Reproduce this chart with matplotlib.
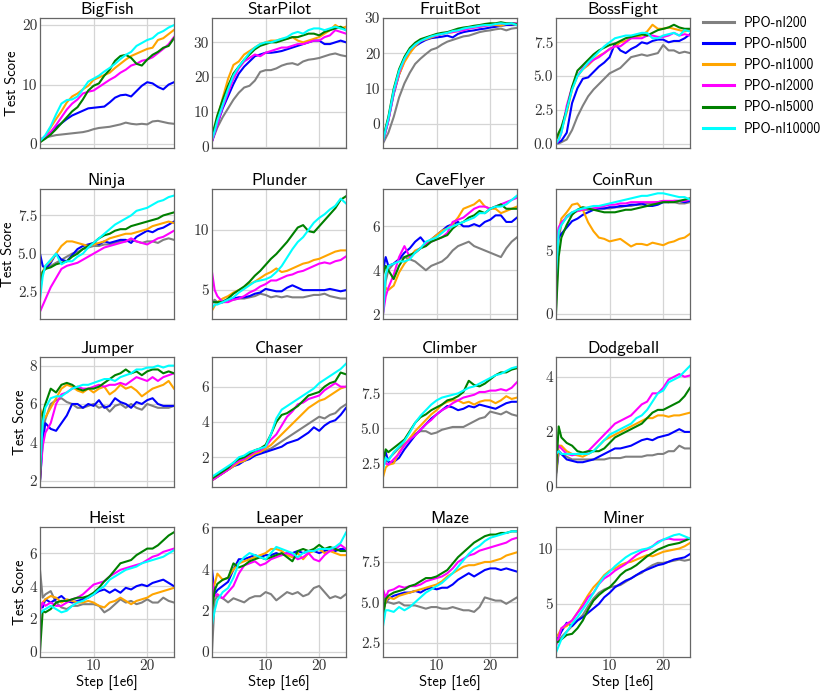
import matplotlib
matplotlib.use("Agg")
import matplotlib.pyplot as plt

plt.rcParams['font.family'] = ['cmss10', 'DejaVu Sans']
plt.rcParams['axes.unicode_minus'] = False

# training steps in 1e6
STEPS = [0, 0.5, 1, 2, 3, 4, 5, 6, 7, 8, 9, 10, 11, 12, 13, 14, 15, 16, 17, 18,
         19, 20, 21, 22, 23, 24, 25]

RUNS = ['PPO-nl200', 'PPO-nl500', 'PPO-nl1000', 'PPO-nl2000', 'PPO-nl5000', 'PPO-nl10000']
COLORS = ['grey', 'blue', 'orange', 'magenta', 'green', 'cyan']

GAMES = ['BigFish', 'StarPilot', 'FruitBot', 'BossFight',
         'Ninja', 'Plunder', 'CaveFlyer', 'CoinRun',
         'Jumper', 'Chaser', 'Climber', 'Dodgeball',
         'Heist', 'Leaper', 'Maze', 'Miner']

# one list per run, in RUNS order
bigfish = [
    [0.3, 0.8, 1.1, 1.3, 1.5, 1.6, 1.7, 1.8, 1.9, 2.0, 2.2, 2.5, 2.7, 2.8, 2.9, 3.1, 3.3, 3.6, 3.4, 3.3, 3.4, 3.3, 3.8, 3.9, 3.7, 3.5, 3.4],
    [0.4, 0.8, 1.2, 2.0, 2.8, 3.5, 4.2, 4.8, 5.2, 5.6, 6.0, 6.1, 6.2, 6.3, 7.0, 7.8, 8.2, 8.3, 8.0, 8.9, 9.8, 10.4, 10.2, 9.6, 9.2, 10.0, 10.4],
    [0.3, 0.8, 1.3, 2.8, 4.2, 5.5, 7.0, 8.0, 8.5, 9.2, 9.8, 10.8, 11.2, 11.6, 12.0, 12.8, 13.5, 14.2, 14.8, 15.2, 15.6, 16.0, 16.2, 17.5, 17.8, 18.5, 19.2],
    [0.8, 1.0, 1.2, 2.0, 3.2, 4.5, 5.8, 6.8, 7.5, 8.5, 8.8, 9.0, 9.6, 10.2, 10.8, 11.3, 12.0, 12.5, 13.2, 13.5, 14.0, 14.2, 14.6, 15.3, 16.0, 16.8, 18.0],
    [0.3, 0.6, 0.9, 1.6, 2.5, 3.5, 4.5, 5.5, 6.2, 7.5, 9.0, 9.8, 10.2, 11.5, 12.5, 14.0, 14.8, 15.0, 14.5, 13.5, 13.2, 14.2, 15.0, 15.5, 16.2, 16.5, 17.8],
    [0.5, 1.0, 1.5, 3.0, 5.0, 6.8, 7.4, 7.5, 8.0, 9.2, 10.5, 11.0, 11.5, 12.2, 12.8, 13.5, 14.3, 15.0, 15.5, 16.5, 17.0, 17.5, 17.8, 18.6, 19.0, 19.6, 20.0],
]
starpilot = [
    [1.5, 3.5, 5.5, 8.5, 11.0, 13.5, 15.5, 17.0, 17.5, 19.0, 21.5, 22.0, 22.0, 22.5, 23.3, 23.8, 24.0, 23.5, 24.5, 25.0, 25.2, 25.5, 26.0, 26.5, 26.8, 26.3, 26.0],
    [1.5, 4.0, 6.5, 11.0, 14.5, 18.0, 21.0, 23.0, 24.5, 26.0, 26.5, 27.0, 27.0, 27.2, 27.5, 28.0, 28.5, 29.0, 29.5, 30.0, 30.5, 30.5, 29.5, 29.5, 30.0, 30.5, 30.0],
    [2.0, 5.0, 8.0, 14.0, 19.5, 23.5, 24.5, 26.5, 27.5, 28.5, 29.5, 30.0, 30.5, 30.5, 31.0, 31.0, 31.5, 30.5, 30.0, 30.5, 31.0, 31.5, 32.5, 33.5, 35.0, 34.0, 34.5],
    [1.5, 4.0, 6.5, 11.5, 15.5, 19.5, 22.5, 24.5, 25.5, 26.5, 26.0, 27.0, 27.5, 28.0, 28.5, 28.5, 29.0, 29.5, 29.5, 30.0, 30.5, 30.5, 31.5, 32.0, 33.5, 33.0, 32.5],
    [3.5, 6.0, 9.0, 13.5, 17.5, 21.0, 23.0, 25.0, 26.5, 28.0, 29.0, 29.5, 30.0, 30.0, 30.5, 31.0, 31.5, 31.5, 32.0, 32.5, 32.5, 32.0, 33.0, 33.5, 34.0, 34.5, 33.5],
    [2.0, 4.5, 7.5, 12.0, 16.5, 20.5, 23.0, 25.0, 27.0, 28.5, 29.5, 30.0, 30.0, 30.5, 31.0, 31.5, 32.5, 33.0, 32.5, 33.5, 34.0, 34.0, 33.5, 34.0, 34.5, 34.0, 33.5],
]
fruitbot = [
    [-5.5, -4.0, -2.5, 2.0, 7.5, 11.5, 14.5, 17.0, 18.5, 19.8, 21.0, 21.5, 22.5, 23.3, 23.8, 24.3, 24.8, 25.0, 25.5, 26.0, 26.3, 26.5, 26.8, 27.0, 26.5, 27.0, 27.2],
    [-5.0, -2.0, 1.0, 8.5, 14.0, 18.0, 20.5, 22.0, 23.0, 23.8, 24.3, 24.5, 24.7, 25.0, 24.5, 25.5, 26.0, 26.3, 26.5, 26.8, 27.0, 27.3, 27.5, 27.8, 28.0, 28.0, 28.0],
    [-5.0, -1.5, 1.5, 9.0, 14.0, 17.5, 20.0, 22.0, 23.5, 24.0, 24.5, 25.0, 25.5, 25.8, 26.0, 26.3, 26.8, 27.0, 27.3, 27.5, 27.8, 28.0, 28.0, 27.8, 28.3, 28.3, 28.0],
    [-5.0, -2.0, 1.0, 9.0, 14.5, 18.5, 21.0, 22.5, 23.5, 24.3, 24.8, 25.0, 25.5, 25.8, 26.0, 26.3, 26.5, 27.0, 27.3, 27.5, 27.8, 28.0, 28.3, 28.5, 28.3, 28.5, 28.5],
    [-4.5, -1.0, 2.0, 10.0, 15.5, 19.0, 21.5, 23.0, 24.0, 24.5, 25.0, 25.5, 25.8, 26.0, 26.5, 27.0, 27.3, 27.5, 27.8, 28.0, 28.3, 28.5, 28.5, 28.8, 28.5, 28.5, 28.3],
    [-5.0, -1.5, 1.5, 9.5, 15.0, 18.5, 21.0, 22.5, 23.5, 24.2, 24.8, 25.2, 25.5, 25.8, 26.3, 26.5, 27.0, 27.3, 27.5, 27.8, 28.0, 28.0, 28.3, 28.5, 28.3, 28.5, 28.0],
]
bossfight = [
    [0.0, 0.0, 0.1, 0.3, 1.0, 2.0, 2.8, 3.5, 4.0, 4.4, 4.8, 5.2, 5.4, 5.6, 6.0, 6.4, 6.5, 6.6, 6.5, 6.6, 6.7, 7.3, 6.9, 6.9, 6.7, 6.8, 6.7],
    [0.0, 0.1, 0.2, 0.8, 3.0, 4.1, 4.8, 4.9, 5.3, 5.7, 6.0, 6.4, 7.4, 6.9, 6.7, 7.0, 7.2, 7.5, 7.4, 7.6, 7.7, 7.7, 7.5, 7.6, 7.6, 7.8, 8.1],
    [0.3, 0.6, 1.0, 2.3, 4.0, 5.0, 5.5, 5.8, 6.2, 6.5, 6.7, 7.0, 7.2, 7.5, 7.6, 7.8, 7.9, 8.0, 8.3, 8.8, 8.5, 8.5, 8.6, 8.5, 8.4, 8.3, 8.4],
    [0.0, 0.2, 0.8, 2.8, 4.2, 5.0, 5.6, 5.9, 6.2, 6.4, 6.7, 7.0, 7.2, 7.2, 7.5, 7.8, 7.8, 7.8, 8.0, 8.0, 7.9, 7.9, 8.0, 8.2, 8.0, 8.1, 8.0],
    [0.3, 0.8, 1.2, 2.5, 4.2, 5.4, 5.8, 6.2, 6.6, 6.9, 7.1, 7.3, 7.4, 7.6, 7.8, 7.9, 8.0, 8.1, 8.0, 8.2, 8.4, 8.5, 8.6, 8.8, 8.6, 8.5, 8.5],
    [0.0, 0.3, 0.8, 2.5, 4.0, 5.0, 5.5, 6.0, 6.4, 6.8, 7.2, 7.5, 7.8, 7.9, 8.0, 8.0, 8.1, 8.2, 8.2, 7.8, 7.8, 8.0, 8.1, 8.2, 8.0, 8.4, 8.3],
]
ninja = [
    [3.5, 3.8, 4.0, 4.2, 4.4, 4.6, 4.8, 5.0, 5.1, 5.3, 5.4, 5.5, 5.5, 5.6, 5.6, 5.7, 5.8, 5.8, 5.9, 5.8, 5.7, 5.8, 5.8, 5.7, 5.9, 6.0, 5.9],
    [5.0, 4.2, 4.0, 4.4, 5.0, 4.6, 4.5, 4.9, 5.3, 5.5, 5.6, 5.7, 5.6, 5.8, 5.7, 5.8, 5.9, 5.9, 5.7, 6.1, 6.3, 6.5, 6.4, 6.6, 6.7, 6.9, 7.1],
    [3.0, 3.8, 4.2, 4.5, 5.0, 5.5, 5.8, 5.8, 5.7, 5.6, 5.5, 5.6, 5.7, 5.8, 6.0, 6.1, 6.2, 6.3, 6.3, 6.4, 6.5, 6.6, 6.8, 6.9, 7.0, 7.1, 7.0],
    [1.2, 1.6, 2.0, 2.8, 3.4, 4.0, 4.2, 4.3, 4.4, 4.6, 4.8, 5.0, 5.2, 5.4, 5.5, 5.6, 5.7, 5.8, 6.0, 5.8, 5.7, 5.6, 5.8, 6.0, 6.1, 6.3, 6.5],
    [2.5, 3.8, 4.0, 4.1, 4.3, 4.4, 4.5, 4.8, 5.0, 5.3, 5.5, 5.7, 6.0, 6.2, 6.3, 6.5, 6.6, 6.6, 6.8, 6.9, 7.0, 7.1, 7.2, 7.3, 7.5, 7.6, 7.7],
    [2.0, 3.5, 4.2, 4.6, 5.0, 4.3, 4.5, 4.5, 4.8, 5.0, 5.4, 5.7, 6.0, 6.3, 6.6, 6.9, 7.1, 7.3, 7.5, 7.8, 7.9, 8.0, 8.2, 8.4, 8.5, 8.7, 8.8],
]
plunder = [
    [4.0, 4.2, 4.0, 4.1, 4.2, 4.2, 4.3, 4.3, 4.4, 4.5, 4.7, 4.6, 4.4, 4.5, 4.4, 4.5, 4.4, 4.4, 4.4, 4.5, 4.6, 4.6, 4.7, 4.5, 4.4, 4.3, 4.3],
    [4.0, 4.0, 3.9, 4.0, 4.2, 4.3, 4.4, 4.4, 4.5, 4.7, 4.8, 5.1, 5.0, 4.9, 4.9, 5.2, 5.4, 5.2, 5.0, 5.0, 5.0, 5.0, 5.0, 5.1, 5.0, 4.9, 5.0],
    [3.3, 3.7, 4.0, 4.3, 4.5, 4.8, 5.0, 5.2, 5.5, 5.7, 6.0, 6.3, 6.5, 6.8, 6.5, 6.6, 6.8, 7.0, 7.2, 7.3, 7.5, 7.6, 7.8, 8.0, 8.2, 8.3, 8.3],
    [6.5, 5.0, 4.5, 4.0, 4.0, 4.2, 4.3, 4.5, 4.8, 5.0, 5.3, 5.5, 5.8, 5.8, 6.0, 6.2, 6.3, 6.5, 6.6, 6.8, 7.0, 7.2, 7.3, 7.2, 7.4, 7.5, 7.8],
    [4.0, 4.0, 4.0, 4.0, 4.3, 4.7, 5.0, 5.3, 5.7, 6.2, 6.6, 7.1, 7.6, 8.0, 8.5, 9.0, 9.6, 10.2, 10.4, 9.9, 9.8, 10.3, 10.8, 11.3, 11.8, 12.5, 12.8],
    [3.5, 3.8, 3.8, 4.0, 4.2, 4.4, 4.8, 5.1, 5.4, 5.7, 5.8, 5.9, 6.1, 6.5, 7.0, 7.7, 8.4, 9.0, 9.4, 10.0, 10.6, 11.0, 11.3, 11.7, 12.0, 12.6, 12.2],
]
caveflyer = [
    [2.0, 3.5, 4.0, 4.3, 4.5, 4.6, 4.5, 4.4, 4.2, 4.0, 4.2, 4.3, 4.4, 4.6, 4.9, 5.1, 5.2, 5.3, 5.1, 5.0, 4.9, 4.8, 4.7, 4.6, 5.0, 5.3, 5.5],
    [4.0, 4.6, 4.2, 4.3, 4.5, 4.8, 5.0, 5.3, 5.5, 5.2, 5.4, 5.6, 5.8, 6.0, 6.1, 6.2, 6.0, 6.0, 6.1, 6.0, 6.2, 6.3, 6.5, 6.5, 6.2, 6.2, 6.4],
    [2.5, 3.2, 3.1, 3.3, 3.9, 4.3, 4.6, 4.9, 5.0, 5.2, 5.4, 5.6, 5.8, 5.9, 6.1, 6.4, 6.8, 6.9, 7.0, 7.2, 6.9, 6.8, 6.8, 6.6, 6.7, 6.8, 6.9],
    [2.0, 2.8, 3.2, 3.8, 4.6, 5.1, 4.6, 4.8, 5.0, 5.2, 5.3, 5.4, 5.5, 5.7, 6.2, 6.3, 6.4, 6.6, 6.8, 6.9, 6.9, 6.8, 6.9, 7.0, 7.1, 7.2, 7.3],
    [3.8, 4.2, 4.0, 3.6, 4.2, 4.6, 4.7, 4.8, 5.0, 5.1, 5.3, 5.4, 5.5, 5.6, 5.9, 6.1, 6.2, 6.4, 6.5, 6.7, 6.6, 6.8, 6.9, 7.0, 6.8, 6.8, 6.8],
    [2.0, 3.8, 4.2, 4.3, 4.4, 4.4, 4.5, 4.8, 5.0, 5.3, 5.4, 5.5, 5.7, 5.9, 6.0, 6.1, 6.2, 6.3, 6.4, 6.6, 6.6, 6.8, 6.9, 6.9, 7.0, 7.2, 7.4],
]
coinrun = [
    [0.5, 6.0, 7.0, 7.7, 8.0, 8.1, 8.2, 8.2, 8.3, 8.3, 8.3, 8.3, 8.4, 8.4, 8.5, 8.5, 8.6, 8.6, 8.7, 8.7, 8.8, 8.9, 8.8, 8.8, 8.7, 8.7, 8.8],
    [5.0, 6.0, 6.3, 6.8, 7.3, 7.5, 7.8, 8.0, 8.2, 8.3, 8.3, 8.4, 8.4, 8.5, 8.5, 8.6, 8.6, 8.7, 8.5, 8.5, 8.6, 8.8, 8.8, 8.9, 8.9, 8.8, 8.9],
    [4.0, 6.5, 7.5, 8.0, 8.6, 8.7, 8.2, 7.2, 6.5, 6.0, 5.9, 5.7, 5.8, 5.9, 5.6, 5.3, 5.5, 5.5, 5.4, 5.6, 5.5, 5.4, 5.6, 5.7, 5.9, 6.0, 6.3],
    [5.5, 6.8, 7.2, 7.6, 7.9, 8.1, 8.2, 8.3, 8.3, 8.4, 8.5, 8.6, 8.6, 8.7, 8.7, 8.8, 8.8, 8.8, 8.8, 8.8, 8.8, 8.9, 8.9, 8.9, 8.9, 8.9, 9.0],
    [0.0, 4.5, 6.0, 7.0, 7.8, 8.2, 8.4, 8.3, 8.2, 8.1, 8.0, 8.0, 8.0, 8.1, 8.2, 8.2, 8.3, 8.4, 8.5, 8.6, 8.7, 8.8, 8.8, 8.8, 8.9, 9.0, 9.1],
    [3.0, 6.5, 7.0, 7.6, 8.0, 8.2, 8.3, 8.4, 8.5, 8.5, 8.6, 8.7, 8.8, 8.9, 9.0, 9.1, 9.2, 9.3, 9.3, 9.4, 9.5, 9.5, 9.4, 9.3, 9.2, 9.2, 9.0],
]
jumper = [
    [2.0, 4.5, 5.2, 6.0, 6.2, 6.3, 6.1, 6.0, 5.8, 5.8, 5.9, 6.0, 5.8, 5.9, 5.6, 5.9, 6.0, 5.8, 6.0, 5.8, 5.7, 6.0, 5.9, 5.8, 5.8, 5.8, 5.9],
    [2.0, 4.0, 5.0, 4.7, 4.6, 5.0, 5.4, 6.0, 6.0, 5.8, 6.0, 5.9, 6.2, 5.8, 5.9, 6.3, 6.1, 6.0, 5.8, 6.1, 6.0, 6.2, 6.3, 6.0, 5.9, 5.9, 5.9],
    [5.8, 5.3, 5.3, 5.8, 6.3, 6.8, 7.0, 6.9, 6.7, 6.6, 6.8, 6.6, 6.8, 6.9, 6.5, 6.7, 7.0, 6.8, 6.9, 6.7, 6.4, 6.6, 6.8, 6.9, 7.0, 7.2, 6.8],
    [2.0, 3.8, 4.5, 5.0, 6.0, 6.5, 6.6, 6.8, 6.9, 6.8, 6.8, 6.9, 7.0, 6.9, 7.0, 7.0, 7.1, 7.0, 7.2, 7.4, 7.3, 7.2, 7.4, 7.2, 7.4, 7.5, 7.6],
    [2.0, 5.5, 6.0, 6.8, 6.6, 7.0, 7.1, 7.0, 6.8, 6.7, 6.8, 6.8, 6.9, 7.1, 7.3, 7.5, 7.6, 7.8, 7.6, 7.7, 7.5, 7.7, 7.8, 7.8, 7.6, 7.7, 7.6],
    [2.5, 5.0, 5.8, 6.3, 6.4, 6.4, 6.6, 6.8, 6.9, 7.0, 7.0, 7.1, 7.2, 7.3, 7.3, 7.2, 7.4, 7.5, 7.6, 7.8, 7.8, 7.9, 7.9, 8.0, 7.9, 8.0, 8.0],
]
chaser = [
    [0.7, 0.8, 0.9, 1.1, 1.3, 1.5, 1.7, 1.8, 2.0, 2.1, 2.3, 2.4, 2.5, 2.7, 2.9, 3.1, 3.3, 3.5, 3.7, 3.9, 4.1, 4.3, 4.2, 4.4, 4.5, 4.8, 5.0],
    [0.7, 0.8, 0.9, 1.1, 1.3, 1.5, 1.6, 1.8, 1.9, 2.1, 2.2, 2.3, 2.4, 2.5, 2.6, 2.8, 2.9, 3.0, 3.2, 3.4, 3.7, 3.5, 3.8, 4.0, 4.1, 4.4, 4.8],
    [0.7, 0.8, 0.9, 1.1, 1.3, 1.5, 1.7, 1.8, 2.0, 2.2, 2.3, 2.5, 2.7, 3.0, 3.3, 3.6, 3.9, 4.2, 4.5, 4.8, 5.0, 5.2, 5.3, 5.5, 5.7, 5.9, 6.0],
    [0.7, 0.8, 0.9, 1.1, 1.3, 1.6, 1.8, 1.9, 2.1, 2.3, 2.4, 2.6, 3.0, 3.3, 3.8, 4.3, 4.6, 5.0, 5.1, 5.3, 5.4, 5.5, 5.8, 6.0, 6.2, 6.0, 6.0],
    [0.8, 0.9, 1.0, 1.2, 1.4, 1.7, 1.9, 2.0, 2.2, 2.4, 2.5, 2.7, 3.3, 4.0, 4.4, 4.5, 4.7, 4.9, 5.2, 5.5, 5.6, 5.7, 6.0, 6.2, 6.3, 6.8, 6.7],
    [0.9, 1.0, 1.1, 1.3, 1.5, 1.7, 2.0, 2.1, 2.3, 2.4, 2.5, 2.6, 3.3, 4.2, 4.7, 4.9, 5.1, 5.3, 5.5, 5.7, 5.9, 6.2, 6.4, 6.6, 6.8, 7.0, 7.3],
]
climber = [
    [2.3, 2.6, 2.8, 3.2, 3.6, 3.9, 4.2, 4.6, 4.8, 4.8, 4.6, 4.7, 4.9, 5.0, 5.1, 5.1, 5.1, 5.3, 5.5, 5.7, 5.8, 6.2, 6.1, 6.0, 6.2, 6.0, 5.9],
    [2.8, 3.3, 2.6, 2.6, 2.9, 3.5, 4.0, 4.5, 4.9, 5.3, 5.7, 6.0, 6.3, 6.6, 6.5, 6.3, 6.4, 6.6, 6.5, 6.7, 6.6, 6.5, 6.4, 6.6, 6.8, 6.9, 6.9],
    [1.5, 2.2, 2.4, 2.5, 3.3, 3.8, 4.3, 4.8, 5.2, 5.6, 6.0, 6.3, 6.7, 6.9, 7.0, 7.0, 6.8, 6.9, 6.7, 6.9, 7.0, 7.0, 6.8, 7.0, 7.3, 7.1, 7.2],
    [2.8, 2.5, 2.4, 2.8, 3.2, 3.8, 4.2, 4.5, 4.9, 5.3, 5.6, 6.0, 6.3, 6.5, 6.8, 7.0, 7.2, 7.3, 7.4, 7.6, 7.6, 7.7, 7.7, 7.8, 7.7, 7.9, 8.3],
    [2.5, 3.5, 3.3, 3.6, 3.9, 4.2, 4.8, 5.4, 5.8, 6.0, 6.3, 6.5, 6.7, 7.0, 7.1, 7.3, 7.6, 8.4, 8.1, 8.0, 8.2, 8.5, 8.8, 9.0, 9.0, 9.2, 9.3],
    [2.0, 2.9, 2.7, 3.3, 3.7, 4.1, 4.7, 5.4, 5.9, 6.3, 6.7, 7.0, 7.2, 7.3, 7.4, 7.5, 7.7, 7.9, 8.0, 8.2, 8.4, 8.6, 8.8, 8.9, 9.1, 9.3, 9.4],
]
dodgeball = [
    [0.3, 1.3, 1.2, 1.1, 1.0, 1.0, 1.0, 1.0, 1.0, 1.0, 1.0, 1.05, 1.05, 1.05, 1.1, 1.1, 1.1, 1.1, 1.15, 1.15, 1.2, 1.2, 1.3, 1.3, 1.5, 1.4, 1.4],
    [0.5, 1.3, 1.2, 1.0, 0.95, 0.9, 0.9, 0.95, 1.0, 1.1, 1.2, 1.3, 1.4, 1.4, 1.45, 1.5, 1.6, 1.7, 1.75, 1.7, 1.8, 1.85, 1.9, 2.0, 2.1, 2.0, 2.0],
    [0.5, 1.5, 1.5, 1.3, 1.2, 1.15, 1.1, 1.2, 1.3, 1.5, 1.7, 1.8, 1.9, 2.0, 2.1, 2.2, 2.3, 2.4, 2.5, 2.5, 2.6, 2.6, 2.55, 2.6, 2.6, 2.65, 2.7],
    [1.2, 1.5, 1.4, 1.2, 1.15, 1.2, 1.2, 1.3, 1.5, 1.7, 1.9, 2.1, 2.3, 2.4, 2.5, 2.6, 2.8, 3.0, 3.1, 3.4, 3.4, 3.6, 3.9, 4.0, 4.1, 4.0, 4.05],
    [0.5, 2.2, 1.8, 1.6, 1.5, 1.3, 1.25, 1.3, 1.3, 1.3, 1.4, 1.6, 1.8, 1.9, 2.0, 2.1, 2.2, 2.3, 2.5, 2.7, 2.8, 2.8, 2.9, 3.0, 3.1, 3.3, 3.6],
    [1.2, 1.3, 1.2, 1.2, 1.2, 1.2, 1.2, 1.2, 1.3, 1.5, 1.7, 1.9, 2.0, 2.1, 2.2, 2.3, 2.5, 2.6, 2.8, 3.1, 3.4, 3.5, 3.8, 3.9, 4.0, 4.2, 4.4],
]
heist = [
    [5.0, 3.3, 3.5, 3.7, 3.0, 2.7, 2.6, 2.8, 2.8, 2.9, 2.9, 2.9, 2.8, 2.4, 2.6, 2.9, 3.2, 3.0, 3.1, 2.9, 3.0, 3.2, 3.0, 3.0, 3.3, 3.1, 3.0],
    [3.0, 2.7, 3.2, 3.0, 3.2, 3.4, 3.1, 3.0, 3.1, 3.2, 3.3, 3.5, 3.7, 3.8, 3.6, 3.8, 3.6, 3.9, 3.8, 4.0, 4.1, 4.0, 4.2, 4.3, 4.4, 4.2, 4.0],
    [2.7, 3.0, 3.2, 3.4, 3.3, 3.0, 3.2, 3.1, 3.0, 3.0, 3.1, 3.0, 2.8, 2.7, 3.0, 3.1, 3.3, 3.1, 2.9, 3.1, 3.2, 3.3, 3.5, 3.6, 3.7, 3.8, 3.9],
    [2.5, 3.0, 2.8, 3.0, 2.8, 2.8, 3.0, 3.2, 3.3, 3.5, 3.8, 4.1, 4.2, 4.3, 4.6, 4.8, 5.0, 5.1, 5.2, 5.3, 5.4, 5.6, 5.8, 5.9, 6.1, 6.2, 6.3],
    [0.0, 2.5, 2.4, 2.6, 3.0, 3.1, 3.1, 3.2, 3.3, 3.3, 3.4, 3.6, 3.9, 4.3, 4.6, 5.0, 5.4, 5.5, 5.6, 5.9, 6.1, 6.3, 6.3, 6.5, 6.8, 7.1, 7.3],
    [2.3, 2.5, 2.6, 2.8, 2.6, 2.4, 2.5, 2.8, 3.0, 3.1, 3.3, 3.5, 3.8, 4.0, 4.4, 4.6, 4.8, 5.0, 5.1, 5.2, 5.4, 5.5, 5.6, 5.7, 5.8, 6.0, 6.2],
]
leaper = [
    [0.0, 2.5, 2.7, 2.6, 2.4, 2.6, 2.5, 2.4, 2.6, 2.7, 2.7, 2.9, 2.8, 2.5, 2.7, 2.9, 2.8, 2.9, 2.7, 2.8, 3.1, 3.2, 2.9, 2.6, 2.7, 2.6, 2.8],
    [4.0, 2.8, 3.0, 3.2, 3.4, 4.0, 4.5, 4.5, 4.6, 4.7, 4.6, 4.7, 4.7, 4.8, 4.7, 4.8, 4.8, 4.9, 4.8, 4.9, 4.9, 4.8, 4.9, 5.0, 4.9, 5.0, 5.0],
    [3.0, 3.3, 3.8, 3.5, 3.6, 4.0, 4.3, 4.4, 4.5, 4.6, 4.7, 4.8, 5.0, 5.0, 4.9, 4.7, 4.6, 4.8, 4.5, 4.8, 4.9, 5.0, 4.8, 4.9, 4.8, 4.7, 4.7],
    [3.5, 2.7, 2.8, 2.6, 2.9, 3.2, 3.8, 4.2, 4.3, 4.4, 4.2, 4.3, 4.5, 4.6, 4.7, 4.8, 4.7, 4.5, 4.6, 4.8, 4.5, 4.4, 4.7, 4.9, 5.0, 5.2, 5.0],
    [2.0, 3.0, 3.3, 3.5, 3.6, 4.3, 4.1, 4.2, 4.4, 4.5, 4.6, 4.5, 4.6, 4.7, 4.8, 4.6, 4.4, 4.9, 5.0, 4.9, 5.0, 5.2, 5.0, 5.1, 5.0, 4.9, 4.9],
    [1.3, 2.0, 2.5, 2.9, 3.1, 3.6, 4.3, 4.6, 4.8, 4.7, 4.6, 4.5, 4.8, 5.1, 5.0, 4.9, 4.8, 4.6, 4.8, 4.9, 4.9, 5.0, 5.0, 5.0, 5.1, 5.3, 5.8],
]
maze = [
    [5.5, 5.0, 5.0, 4.9, 5.0, 4.8, 4.8, 4.8, 4.7, 4.6, 4.7, 4.7, 4.6, 4.6, 4.7, 4.6, 4.5, 4.5, 4.4, 4.7, 5.3, 5.2, 5.1, 5.1, 4.9, 5.1, 5.3],
    [4.5, 5.0, 5.2, 5.4, 5.5, 5.6, 5.6, 5.7, 5.6, 5.8, 5.9, 5.8, 5.9, 5.9, 6.1, 6.4, 6.6, 6.8, 6.6, 6.8, 7.0, 7.1, 7.1, 7.0, 7.1, 7.0, 6.9],
    [4.5, 5.0, 5.3, 5.2, 5.4, 5.5, 5.6, 5.7, 5.8, 5.9, 6.0, 6.1, 6.3, 6.6, 6.8, 7.0, 7.2, 7.3, 7.3, 7.4, 7.5, 7.5, 7.6, 7.7, 7.9, 8.0, 8.1],
    [5.8, 5.3, 5.7, 5.8, 6.0, 5.9, 6.0, 6.0, 6.1, 6.3, 6.4, 6.5, 6.6, 6.8, 7.1, 7.5, 7.7, 7.9, 8.0, 8.2, 8.3, 8.4, 8.5, 8.6, 8.7, 8.9, 9.0],
    [4.0, 5.2, 5.4, 5.6, 5.7, 5.8, 6.0, 6.1, 6.3, 6.5, 6.5, 6.6, 6.8, 7.0, 7.4, 7.8, 8.1, 8.4, 8.7, 8.9, 9.1, 9.2, 9.2, 9.3, 9.3, 9.4, 9.4],
    [3.5, 4.5, 4.5, 4.4, 4.7, 4.5, 4.7, 5.0, 5.3, 5.6, 5.8, 6.0, 6.2, 6.5, 6.8, 7.2, 7.6, 8.0, 8.3, 8.5, 8.8, 9.0, 9.1, 9.2, 9.3, 9.4, 9.4],
]
miner = [
    [1.5, 1.7, 2.0, 2.5, 3.0, 3.5, 4.0, 4.8, 5.5, 6.0, 6.3, 6.5, 6.6, 6.7, 7.0, 7.3, 7.6, 7.8, 8.2, 8.5, 8.7, 8.7, 8.8, 8.9, 9.0, 8.9, 9.0],
    [1.8, 2.0, 2.5, 3.3, 3.0, 3.5, 3.8, 4.2, 4.6, 5.0, 5.6, 6.0, 6.5, 6.8, 7.1, 7.3, 7.6, 7.9, 8.1, 8.3, 8.5, 8.6, 8.8, 9.0, 9.1, 9.2, 9.5],
    [2.0, 2.3, 2.8, 3.0, 3.5, 4.2, 5.0, 5.8, 6.5, 7.0, 7.6, 8.0, 8.2, 8.5, 8.7, 8.8, 9.0, 9.2, 9.4, 9.3, 9.5, 9.7, 9.8, 9.9, 10.0, 10.2, 10.5],
    [1.2, 2.0, 2.8, 3.2, 3.5, 4.2, 4.8, 5.6, 6.0, 6.8, 7.3, 7.6, 8.0, 8.3, 8.6, 9.0, 9.4, 9.7, 9.9, 10.2, 10.6, 10.8, 10.9, 10.8, 10.8, 10.8, 10.9],
    [1.5, 1.6, 1.8, 2.2, 2.3, 2.8, 3.5, 4.5, 5.3, 5.8, 6.2, 6.5, 7.0, 7.6, 8.0, 8.2, 8.5, 8.9, 9.3, 9.6, 9.9, 10.1, 10.3, 10.4, 10.5, 10.7, 10.9],
    [0.6, 1.2, 1.8, 2.5, 3.2, 3.8, 4.5, 5.2, 6.0, 6.8, 7.5, 7.9, 8.4, 8.8, 9.2, 9.5, 9.7, 9.9, 10.0, 10.2, 10.5, 10.8, 11.0, 11.2, 11.3, 11.1, 10.9],
]

YTICKS = [[0, 10, 20], [0, 10, 20, 30], [0, 10, 20, 30], [0.0, 2.5, 5.0, 7.5],
          [2.5, 5.0, 7.5], [5, 10], [2, 4, 6], [0, 5],
          [2, 4, 6, 8], [2, 4, 6], [2.5, 5.0, 7.5], [0, 2, 4],
          [0, 2, 4, 6], [0, 2, 4, 6], [2.5, 5.0, 7.5], [5, 10]]

YLIMS = [(-0.67, 21.2), (-0.4, 37), (-6.8, 30), (-0.33, 9.3),
         (0.72, 9.23), (2.6, 13.4), (1.78, 7.7), (-0.43, 9.84),
         (1.67, 8.45), (0.32, 7.68), (0.81, 10.1), (0, 4.72),
         (-0.33, 7.62), (-0.26, 6.07), (1.6, 9.67), (0.21, 11.94)]

ALL = [bigfish, starpilot, fruitbot, bossfight, ninja, plunder, caveflyer, coinrun,
       jumper, chaser, climber, dodgeball, heist, leaper, maze, miner]

W, H = 830, 694
COL_X = [40, 212, 383, 556]
ROW_Y = [18, 189, 357, 527]
AX_W, AX_H = 134, 130

fig = plt.figure(figsize=(W / 100, H / 100), dpi=100)

for k, game in enumerate(GAMES):
    r, c = divmod(k, 4)
    ax = fig.add_axes([COL_X[c] / W, 1 - (ROW_Y[r] + AX_H) / H, AX_W / W, AX_H / H])
    for run, col, ys in zip(RUNS, COLORS, ALL[k]):
        ax.plot(STEPS, ys, color=col, lw=1.5, label=run)
    ax.set_xlim(0, 25)
    ax.set_ylim(*YLIMS[k])
    ax.set_xticks([10, 20])
    ax.set_yticks(YTICKS[k])
    ax.grid(True, color='#d5d5d5', lw=0.9)
    ax.set_axisbelow(True)
    for sp in ax.spines.values():
        sp.set_color('#666666')
        sp.set_linewidth(0.9)
    ax.tick_params(length=0, pad=2, labelsize=11, labelcolor='#333333',
                   labelfontfamily='cmr10')
    ax.set_title(game, fontsize=12.5, pad=3)
    if c == 0:
        ax.set_ylabel('Test Score', fontsize=10.5, labelpad=2)
    if r == 3:
        ax.set_xlabel('Step [1e6]', fontsize=10.5, labelpad=1)
    else:
        ax.set_xticklabels([])

handles, labels = ax.get_legend_handles_labels()
leg = fig.legend(handles, labels, loc='upper left', bbox_to_anchor=(690 / W, 1 - 3 / H),
                 frameon=False, fontsize=10, handlelength=2.3, handletextpad=0.7,
                 labelspacing=0.52)
for ln in leg.get_lines():
    ln.set_linewidth(2.2)

fig.savefig('out.png', dpi=100)
